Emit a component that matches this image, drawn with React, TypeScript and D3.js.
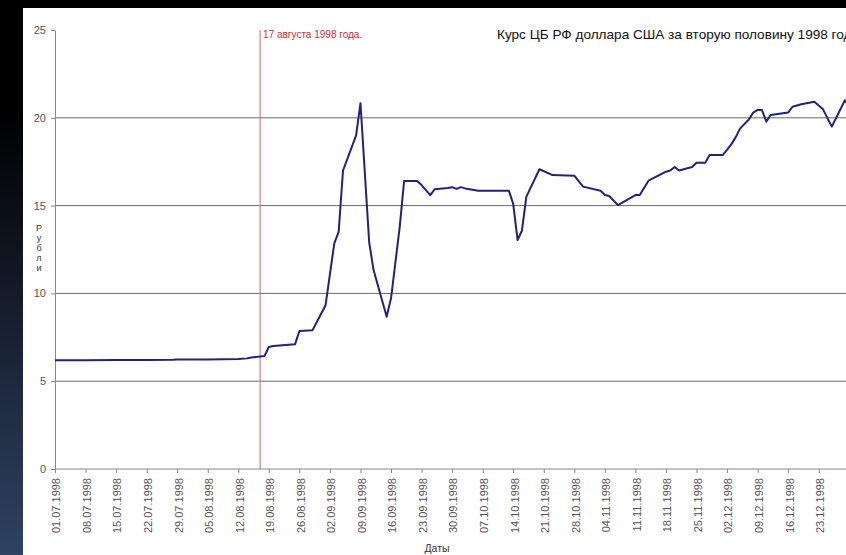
import React, { useEffect, useRef } from 'react';
import * as d3 from 'd3';

// Курс ЦБ РФ, руб. за доллар США
const dates = [
  '01.07', '08.07', '15.07', '22.07', '28.07', '29.07', '05.08', '12.08', '14.08', '15.08',
  '18.08', '19.08', '20.08', '25.08', '26.08', '29.08', '01.09', '03.09', '04.09', '05.09',
  '08.09', '09.09', '11.09', '12.09', '15.09', '16.09', '18.09', '19.09', '22.09', '23.09',
  '25.09', '26.09', '29.09', '30.09', '01.10', '02.10', '03.10', '06.10', '13.10', '14.10',
  '15.10', '16.10', '17.10', '20.10', '23.10', '28.10', '30.10', '03.11', '04.11', '05.11',
  '07.11', '11.11', '12.11', '14.11', '18.11', '19.11', '20.11', '21.11', '24.11', '25.11',
  '27.11', '28.11', '01.12', '02.12', '03.12', '04.12', '05.12', '07.12', '08.12', '09.12',
  '10.12', '11.12', '12.12', '16.12', '17.12', '19.12', '22.12', '24.12', '26.12', '29.12',
  '30.12',
];
const rates = [
  6.2, 6.2, 6.21, 6.21, 6.22, 6.23, 6.24, 6.26, 6.3, 6.35,
  6.43, 6.95, 7.0, 7.1, 7.86, 7.9, 9.33, 12.85, 13.5, 17.0,
  19.0, 20.83, 12.9, 11.33, 8.67, 9.72, 13.8, 16.4, 16.4, 16.17,
  15.6, 15.93, 16.0, 16.05, 15.95, 16.05, 15.98, 15.85, 15.85, 15.1,
  13.04, 13.57, 15.5, 17.07, 16.74, 16.7, 16.08, 15.85, 15.6, 15.55,
  15.03, 15.6, 15.6, 16.42, 16.93, 17.0, 17.2, 17.0, 17.2, 17.44,
  17.44, 17.88, 17.88, 18.17, 18.5, 18.9, 19.4, 19.9, 20.3, 20.45,
  20.44, 19.78, 20.16, 20.3, 20.63, 20.77, 20.92, 20.48, 19.5, 21.0,
  20.65,
];
const yTicks = [0, 5, 10, 15, 20, 25];
const gridValues = [5, 10, 15, 20];
const eventDate = '17.08';
const title = 'Курс ЦБ РФ доллара США за вторую половину 1998 года';
const eventLabel = '17 августа 1998 года.';
const xTitle = 'Даты';
const yTitle = ['Р', 'у', 'б', 'л', 'и'];

const W = 846;
const H = 555;
const parse = d3.timeParse('%d.%m.%Y');
const fmt = d3.timeFormat('%d.%m.%Y');

export default function App() {
  const ref = useRef<SVGSVGElement>(null);

  useEffect(() => {
    if (!ref.current) return;
    const svg = d3.select(ref.current);
    svg.selectAll('*').remove();

    const defs = svg.append('defs');
    const grad = defs.append('linearGradient')
      .attr('id', 'side').attr('x1', 0).attr('y1', 0).attr('x2', 0).attr('y2', 1);
    grad.append('stop').attr('offset', '0.2').attr('stop-color', '#000');
    grad.append('stop').attr('offset', '1').attr('stop-color', '#2f4263');

    svg.append('rect').attr('width', W).attr('height', H).attr('fill', '#000');
    svg.append('rect').attr('width', 23).attr('height', H).attr('fill', 'url(#side)');
    svg.append('rect').attr('x', 23).attr('y', 8).attr('width', W - 23).attr('height', H - 8).attr('fill', '#fff');

    const start = parse('01.07.1998')!;
    const end = parse('31.12.1998')!;
    const x = d3.scaleTime().domain([start, end]).range([55, 55 + 183 * 4.364]);
    const y = d3.scaleLinear().domain([0, 25]).range([469, 30]);

    const g = svg.append('g').style('font-family', 'Arial, "Liberation Sans", sans-serif');

    // grid
    g.append('g').selectAll('line').data(gridValues).enter().append('line')
      .attr('x1', 55).attr('x2', W).attr('y1', (d) => y(d)).attr('y2', (d) => y(d))
      .attr('stroke', '#6a6a6a').attr('stroke-width', 1);

    // y axis
    const yAxis = g.append('g').attr('transform', 'translate(55,0)')
      .call(d3.axisLeft(y).tickValues(yTicks).tickSize(4).tickSizeOuter(0));
    yAxis.select('.domain').attr('stroke', '#888');
    yAxis.selectAll('.tick line').attr('stroke', '#888');
    yAxis.selectAll('.tick text').attr('fill', '#555').style('font-size', '11px').attr('x', -9);

    // x axis, weekly ticks
    const xTicks = d3.timeDay.range(start, end, 7);
    const xAxis = g.append('g').attr('transform', 'translate(0,469)')
      .call(d3.axisBottom(x).tickValues(xTicks).tickFormat((d) => fmt(d as Date)).tickSize(4).tickSizeOuter(0));
    xAxis.select('.domain').attr('stroke', '#888').attr('d', `M55,0H${W}`);
    xAxis.selectAll('.tick line').attr('stroke', '#888');
    xAxis.selectAll('.tick text')
      .attr('fill', '#555').style('font-size', '11px')
      .attr('text-anchor', 'end')
      .attr('transform', 'rotate(-90)')
      .attr('x', -9).attr('y', 1).attr('dy', '0.35em');

    // event marker
    const ex = x(parse(eventDate + '.1998')!);
    g.append('line').attr('x1', ex).attr('x2', ex).attr('y1', 30).attr('y2', 469)
      .attr('stroke', '#d86060').attr('stroke-width', 1);
    g.append('text').attr('x', ex + 3).attr('y', 37.5).attr('fill', '#d03030')
      .style('font-size', '10px').text(eventLabel);

    // line
    const pts = dates.map((d, i) => ({ date: parse(d + '.1998')!, v: rates[i] }));
    const line = d3.line<{ date: Date; v: number }>().x((d) => x(d.date)).y((d) => y(d.v));
    g.append('path').datum(pts).attr('d', line).attr('fill', 'none')
      .attr('stroke', '#22227a').attr('stroke-width', 2).attr('stroke-linejoin', 'round');

    // titles
    g.append('text').attr('x', 497).attr('y', 39).style('font-size', '13.6px').attr('fill', '#111').text(title);
    g.append('text').attr('x', 437).attr('y', 552).attr('text-anchor', 'middle')
      .style('font-size', '10.5px').attr('fill', '#333').text(xTitle);
    g.append('g').selectAll('text').data(yTitle).enter().append('text')
      .attr('x', 39).attr('y', (d, i) => 231 + i * 10).attr('text-anchor', 'middle')
      .style('font-size', '9px').attr('fill', '#333').text((d) => d);
  }, []);

  return (
    <>
      <style>{'body{margin:0;background:#000}'}</style>
      <svg ref={ref} width={W} height={H} style={{ display: 'block' }} />
    </>
  );
}
